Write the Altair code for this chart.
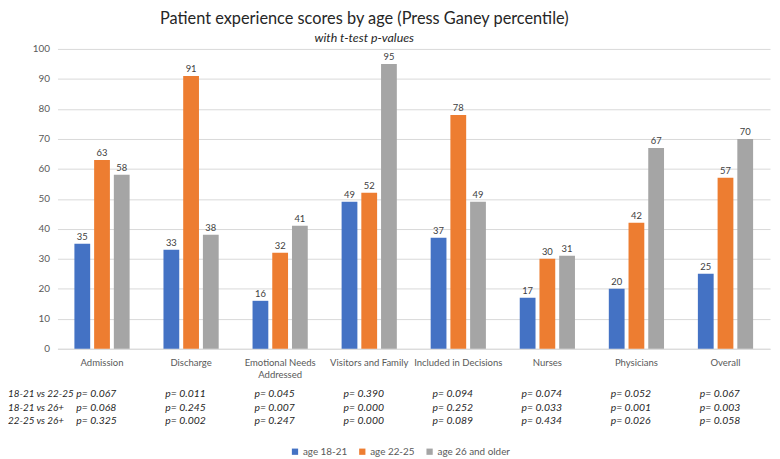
import altair as alt
import pandas as pd

categories = ["Admission", "Discharge", "Emotional Needs Addressed", "Visitors and Family",
              "Included in Decisions", "Nurses", "Physicians", "Overall"]
groups = ["age 18-21", "age 22-25", "age 26 and older"]
age_18_21 = [35, 33, 16, 49, 37, 17, 20, 25]
age_22_25 = [63, 91, 32, 52, 78, 30, 42, 57]
age_26_up = [58, 38, 41, 95, 49, 31, 67, 70]
colors = ["#4472C4", "#ED7D31", "#A5A5A5"]

comparisons = ["18-21 vs 22-25", "18-21 vs 26+", "22-25 vs 26+"]
p_18_vs_22 = ["0.067", "0.011", "0.045", "0.390", "0.094", "0.074", "0.052", "0.067"]
p_18_vs_26 = ["0.068", "0.245", "0.007", "0.000", "0.252", "0.033", "0.001", "0.003"]
p_22_vs_26 = ["0.325", "0.002", "0.247", "0.000", "0.089", "0.434", "0.026", "0.058"]

FONT = "Lato"

rows = []
for g, vals in zip(groups, [age_18_21, age_22_25, age_26_up]):
    for c, v in zip(categories, vals):
        rows.append({"category": c, "group": g, "value": v})
df = pd.DataFrame(rows)

x_axis = alt.Axis(title=None, labelAngle=0, ticks=False, domainColor="#d9d9d9",
                  labelColor="#595959", labelFont=FONT, labelFontSize=9.6,
                  labelPadding=9,
                  labelExpr="datum.label == 'Emotional Needs Addressed' ? ['Emotional Needs', 'Addressed'] : datum.label")
y_axis = alt.Axis(title=None, tickCount=10, grid=True,
                  labelOverlap=False, ticks=False, domain=False,
                  gridColor="#d9d9d9", labelColor="#595959", labelFont=FONT,
                  labelFontSize=10, labelPadding=8)
x_scale = alt.Scale(paddingInner=0.38, paddingOuter=0.19)
x_enc = alt.X("category:N", sort=categories, scale=x_scale, axis=x_axis)
y_enc = alt.Y("value:Q", scale=alt.Scale(domain=[0, 100], nice=False), axis=y_axis)
xoff = alt.XOffset("group:N", sort=groups, scale=alt.Scale(paddingInner=0.2, paddingOuter=0))

bars = alt.Chart(df).mark_bar().encode(
    x=x_enc,
    xOffset=xoff,
    y=y_enc,
    color=alt.Color("group:N", sort=groups, scale=alt.Scale(domain=groups, range=colors),
                    legend=alt.Legend(title=None, orient="none", direction="horizontal",
                                      legendX=235, legendY=402, symbolType="square",
                                      symbolSize=40, symbolStrokeWidth=0,
                                      labelFont=FONT, labelFontSize=10, labelColor="#595959",
                                      columnPadding=10, labelOffset=3)),
)

labels = alt.Chart(df).mark_text(dy=-7, font=FONT, fontSize=9.5, color="#404040").encode(
    x=x_enc,
    xOffset=xoff,
    y=y_enc,
    text="value:Q",
)

layers = [bars, labels]
row_y = [349, 363, 376]
for comp, pv, yy in zip(comparisons, [p_18_vs_22, p_18_vs_26, p_22_vs_26], row_y):
    pdf = pd.DataFrame({"category": categories, "p": ["p= " + p for p in pv]})
    layers.append(
        alt.Chart(pdf).mark_text(align="left", dx=-26, font=FONT, fontSize=10.5,
                                 fontStyle="italic", color="#262626").encode(
            x=x_enc,
            y=alt.value(yy),
            text="p:N",
        )
    )
    layers.append(
        alt.Chart(pd.DataFrame({"t": [comp]})).mark_text(
            align="left", font=FONT, fontSize=10, fontStyle="italic", color="#262626").encode(
            x=alt.value(-50), y=alt.value(yy), text="t:N")
    )

chart = alt.layer(*layers).properties(
    width=720, height=303,
    padding={"left": 50, "top": 39, "right": 2, "bottom": 108},
    autosize=alt.AutoSizeParams(type="none"),
    title=alt.TitleParams(
        "Patient experience scores by age (Press Ganey percentile)",
        subtitle="with t-test p-values",
        font=FONT, fontSize=16.5, fontWeight="normal", color="#262626",
        subtitleFont=FONT, subtitleFontSize=12.5, subtitleFontStyle="italic",
        subtitleColor="#262626", anchor="middle", dx=-50, offset=0, subtitlePadding=4,
    ),
).configure_view(stroke=None)

chart.save("out.html", embed_options={"renderer": "svg", "actions": False})
